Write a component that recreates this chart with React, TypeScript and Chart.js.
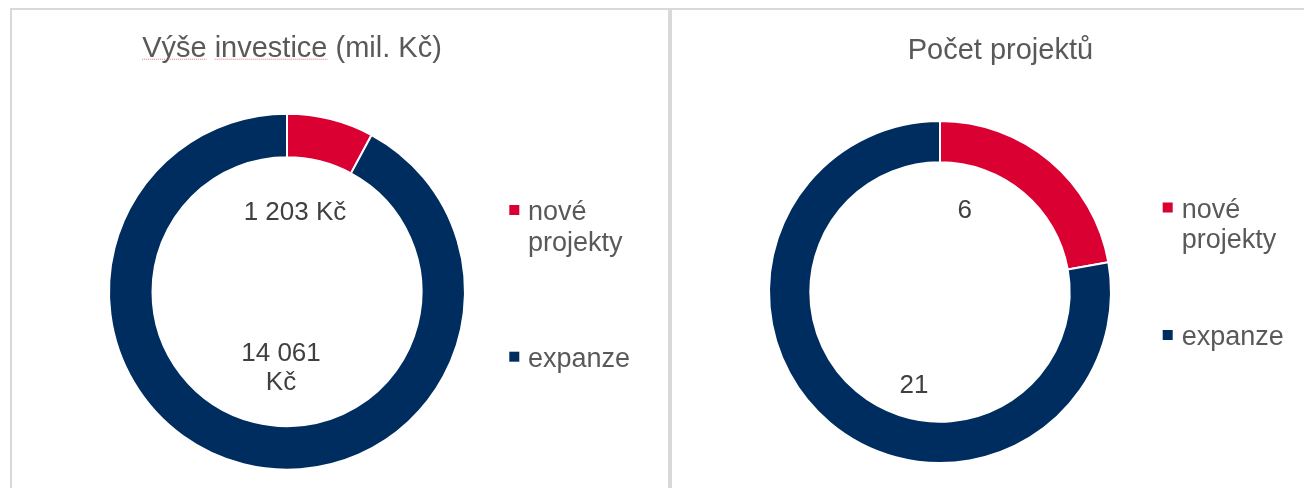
import React, { useEffect, useRef } from 'react';
import { Chart, registerables } from 'chart.js';

Chart.register(...registerables);

// ---------- data ----------
const categories = ['nové projekty', 'expanze'];
const investmentValues = [1203, 14061]; // mil. Kč
const projectCounts = [6, 21];
const seriesColors = ['#DA0032', '#002D5F'];
const chartTitles = ['Výše investice (mil. Kč)', 'Počet projektů'];
const valueSuffixes = [' Kč', ''];

const FONT = '"Liberation Sans", Arial, Helvetica, sans-serif';

const fmtThousands = (v: number) => String(v).replace(/\B(?=(\d{3})+(?!\d))/g, ' ');

function wrapWords(ctx: CanvasRenderingContext2D, text: string, maxWidth: number): string[] {
  const words = text.split(' ');
  const lines: string[] = [];
  let cur = '';
  for (const w of words) {
    const test = cur ? cur + ' ' + w : w;
    if (cur && ctx.measureText(test).width > maxWidth) {
      lines.push(cur);
      cur = w;
    } else {
      cur = test;
    }
  }
  if (cur) lines.push(cur);
  return lines;
}

type PanelCfg = {
  title: string;
  titleX: number;
  titleBaseline: number;
  spellMarks: string[];
  values: number[];
  suffix: string;
  cutout: string;
  padding: { left: number; top: number; right: number; bottom: number };
  canvasW: number;
  canvasH: number;
  legendBoxDx: number;
  legendTextDx: number;
  legendItemDy: number[];
  labelOffsets: number[][];
};

function makeOverlay(cfg: PanelCfg) {
  return {
    id: 'overlay',
    afterDraw(chart: any) {
      const meta = chart.getDatasetMeta(0);
      const arcs = meta.data;
      if (!arcs || !arcs.length) return;
      const cx = arcs[0].x;
      const cy = arcs[0].y;
      const ctx: CanvasRenderingContext2D = chart.ctx;
      const ds = chart.data.datasets[0];
      const labels: string[] = chart.data.labels;
      ctx.save();

      // title
      ctx.font = `29px ${FONT}`;
      ctx.fillStyle = '#595959';
      ctx.textAlign = 'center';
      ctx.textBaseline = 'alphabetic';
      ctx.fillText(cfg.title, cfg.titleX, cfg.titleBaseline);
      if (cfg.spellMarks.length) {
        const full = ctx.measureText(cfg.title).width;
        const start = cfg.titleX - full / 2;
        ctx.strokeStyle = '#E57373';
        ctx.lineWidth = 1;
        ctx.setLineDash([1, 1]);
        cfg.spellMarks.forEach((word) => {
          const idx = cfg.title.indexOf(word);
          if (idx < 0) return;
          const x0 = start + ctx.measureText(cfg.title.slice(0, idx)).width;
          const x1 = x0 + ctx.measureText(word).width;
          ctx.beginPath();
          ctx.moveTo(x0, cfg.titleBaseline + 2.5);
          ctx.lineTo(x1, cfg.titleBaseline + 2.5);
          ctx.stroke();
        });
        ctx.setLineDash([]);
      }

      // legend
      ctx.font = `27px ${FONT}`;
      ctx.textAlign = 'left';
      labels.forEach((lab, i) => {
        const boxCy = cy + cfg.legendItemDy[i];
        ctx.fillStyle = ds.backgroundColor[i];
        ctx.fillRect(cx + cfg.legendBoxDx, boxCy - 5, 10, 10);
        ctx.fillStyle = '#595959';
        const lines = wrapWords(ctx, lab, 110);
        lines.forEach((ln, j) => {
          ctx.fillText(ln, cx + cfg.legendTextDx, boxCy + 10 + j * 30.5);
        });
      });

      // data labels
      ctx.font = `26px ${FONT}`;
      ctx.fillStyle = '#404040';
      ctx.textAlign = 'center';
      ctx.textBaseline = 'middle';
      (ds.data as number[]).forEach((v, i) => {
        const text = fmtThousands(v) + cfg.suffix;
        const lines = wrapWords(ctx, text, 110);
        const [dx, dy] = cfg.labelOffsets[i];
        const lh = 29.5;
        const h = (lines.length - 1) * lh;
        lines.forEach((ln, j) => {
          ctx.fillText(ln, cx + dx, cy + dy - h / 2 + j * lh);
        });
      });

      ctx.restore();
    },
  };
}

function DonutPanel({ cfg }: { cfg: PanelCfg }) {
  const ref = useRef<HTMLCanvasElement | null>(null);
  useEffect(() => {
    if (!ref.current) return;
    const chart = new Chart(ref.current, {
      type: 'doughnut',
      data: {
        labels: categories,
        datasets: [
          {
            data: cfg.values,
            backgroundColor: seriesColors,
            borderColor: '#FFFFFF',
            borderWidth: 2,
            hoverBorderWidth: 2,
            offset: 0,
            hoverOffset: 0,
          } as any,
        ],
      },
      options: {
        responsive: false,
        animation: false,
        events: [],
        cutout: cfg.cutout,
        layout: { padding: cfg.padding },
        plugins: {
          legend: { display: false },
          tooltip: { enabled: false },
          title: { display: false },
        },
      } as any,
      plugins: [makeOverlay(cfg) as any],
    });
    return () => chart.destroy();
  }, [cfg]);
  return (
    <canvas
      ref={ref}
      width={cfg.canvasW}
      height={cfg.canvasH}
      style={{ width: cfg.canvasW, height: cfg.canvasH, display: 'block' }}
    />
  );
}

const leftCfg: PanelCfg = {
  title: chartTitles[0],
  titleX: 280,
  titleBaseline: 46.7,
  spellMarks: ['Výše', 'investice'],
  values: investmentValues,
  suffix: valueSuffixes[0],
  cutout: '75.56%',
  padding: { left: 96, top: 102.7, right: 202, bottom: 17.3 },
  canvasW: 656,
  canvasH: 478,
  legendBoxDx: 222.3,
  legendTextDx: 241,
  legendItemDy: [-81.7, 65],
  labelOffsets: [
    [8, -78.7],
    [-6, 76.8],
  ],
};

const rightCfg: PanelCfg = {
  title: chartTitles[1],
  titleX: 328.4,
  titleBaseline: 48.5,
  spellMarks: [],
  values: projectCounts,
  suffix: valueSuffixes[1],
  cutout: '75.85%',
  padding: { left: 96, top: 110, right: 192, bottom: 24 },
  canvasW: 632,
  canvasH: 478,
  legendBoxDx: 222.7,
  legendTextDx: 241.7,
  legendItemDy: [-84.5, 43],
  labelOffsets: [
    [24.7, -81.6],
    [-26, 93.5],
  ],
};

export default function App() {
  const border = '2px solid #D9D9D9';
  return (
    <div
      style={{
        position: 'absolute',
        left: 0,
        top: 0,
        width: 1304,
        height: 488,
        overflow: 'hidden',
        background: '#FFFFFF',
      }}
    >
      <div
        style={{
          position: 'absolute',
          left: 10,
          top: 8,
          width: 660,
          height: 500,
          boxSizing: 'border-box',
          borderTop: border,
          borderLeft: border,
          borderRight: border,
        }}
      >
        <DonutPanel cfg={leftCfg} />
      </div>
      <div
        style={{
          position: 'absolute',
          left: 670,
          top: 8,
          width: 660,
          height: 500,
          boxSizing: 'border-box',
          borderTop: border,
          borderLeft: border,
          borderRight: border,
        }}
      >
        <DonutPanel cfg={rightCfg} />
      </div>
    </div>
  );
}
